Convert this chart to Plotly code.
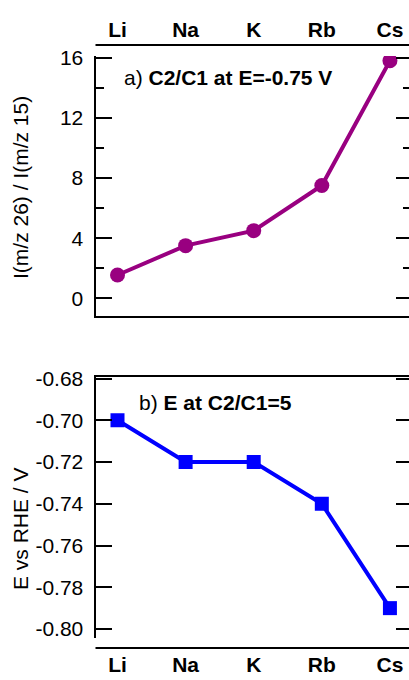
import plotly.graph_objects as go

# ---- data ----
cations = ["Li", "Na", "K", "Rb", "Cs"]
ratio_c2_c1 = [1.55, 3.5, 4.5, 7.5, 15.8]          # panel a
e_at_ratio5 = [-0.70, -0.72, -0.72, -0.74, -0.79]  # panel b
ratio_ticks = [0, 4, 8, 12, 16]
e_ticks = [-0.68, -0.70, -0.72, -0.74, -0.76, -0.78, -0.80]
e_ticktext = [f"{v:.2f}" for v in e_ticks]  # ASCII hyphen-minus

W, H = 409, 680
FONT = "Liberation Sans, Arial, sans-serif"
PURPLE = "#990080"
BLUE = "#0000FF"

def px(x):
    return x / W

def py(y):
    return 1 - y / H

idx = list(range(len(cations)))
xdom = [px(95.5), 1.0]
xrange_ = [-0.323, 4.28]
yr_a = [-1.177, 16.113]
yr_b = [-0.80431, -0.67928]

fig = go.Figure()
fig.add_trace(go.Scatter(x=idx, y=ratio_c2_c1, mode="lines+markers",
                         line=dict(color=PURPLE, width=4),
                         marker=dict(symbol="circle", size=15, color=PURPLE),
                         xaxis="x", yaxis="y", showlegend=False))
fig.add_trace(go.Scatter(x=idx, y=e_at_ratio5, mode="lines+markers",
                         line=dict(color=BLUE, width=4),
                         marker=dict(symbol="square", size=14, color=BLUE),
                         xaxis="x2", yaxis="y2", showlegend=False))
# empty helper traces so that the frame axes get drawn
for xa, ya in [("x3", "y"), ("x", "y3"), ("x4", "y2"), ("x2", "y4")]:
    fig.add_trace(go.Scatter(x=[None], y=[None], mode="markers", xaxis=xa,
                             yaxis=ya, showlegend=False, hoverinfo="skip"))

tickfont = dict(family=FONT, size=21, color="black")
catfont = dict(family=FONT, size=21, color="black", weight="bold")

common_x = dict(domain=xdom, range=xrange_, tickvals=idx, ticktext=cations,
                showgrid=False, zeroline=False, linecolor="black", linewidth=2,
                ticks="", tickfont=catfont, automargin=False)

fig.update_layout(
    width=W, height=H, autosize=False,
    margin=dict(l=0, r=0, t=0, b=0, autoexpand=False),
    paper_bgcolor="white", plot_bgcolor="white",
    font=dict(family=FONT, color="black"),
    # panel a
    xaxis=dict(**common_x, side="top", anchor="free", position=py(45),
               showline=False, ticklabelstandoff=4),
    yaxis=dict(domain=[py(316), py(56)], range=yr_a,
               tickvals=ratio_ticks, showgrid=False, zeroline=False,
               showline=True, linecolor="black", linewidth=2,
               ticks="inside", ticklen=16, tickwidth=2, tickcolor="black",
               minor=dict(ticks="inside", ticklen=8, tickwidth=2, dtick=2,
                          tick0=0, tickcolor="black", showgrid=False),
               tickfont=tickfont, anchor="x", ticklabelstandoff=6,
               automargin=False),
    xaxis3=dict(domain=xdom, range=xrange_, overlaying="x", anchor="y",
                side="bottom", showline=True, linecolor="black", linewidth=2,
                showticklabels=False, ticks="", showgrid=False, zeroline=False,
                automargin=False),
    yaxis3=dict(domain=[py(316), py(56)], range=yr_a, overlaying="y",
                anchor="x", side="right",
                tickvals=ratio_ticks, showline=False, showticklabels=False,
                ticks="inside", ticklen=13, tickwidth=2, tickcolor="black",
                minor=dict(ticks="inside", ticklen=6, tickwidth=2, dtick=2,
                           tick0=0, tickcolor="black", showgrid=False),
                showgrid=False, zeroline=False, automargin=False),
    # panel b
    xaxis2=dict(**common_x, side="bottom", anchor="free", position=py(648),
                showline=False, ticklabelstandoff=2),
    yaxis2=dict(domain=[py(638), py(377)], range=yr_b,
                tickvals=e_ticks, ticktext=e_ticktext, showgrid=False,
                zeroline=False, showline=True, linecolor="black", linewidth=2,
                ticks="inside", ticklen=16, tickwidth=2, tickcolor="black",
                tickfont=tickfont, anchor="x2", ticklabelstandoff=6,
                automargin=False),
    xaxis4=dict(domain=xdom, range=xrange_, overlaying="x2", anchor="y2",
                side="top", showline=True, linecolor="black", linewidth=2,
                showticklabels=False, ticks="", showgrid=False, zeroline=False,
                automargin=False),
    yaxis4=dict(domain=[py(638), py(377)], range=yr_b, overlaying="y2",
                anchor="x2", side="right", tickvals=e_ticks, showline=False,
                showticklabels=False, ticks="inside", ticklen=13, tickwidth=2,
                tickcolor="black", showgrid=False, zeroline=False,
                automargin=False),
)

# detached frame lines (top of panel a, bottom of panel b)
for xr, ypix in [("x domain", 45), ("x2 domain", 648)]:
    fig.add_shape(type="line", xref=xr, yref="paper", x0=0, x1=1,
                  y0=py(ypix), y1=py(ypix), line=dict(color="black", width=2))

annots = [
    dict(text="I(m/z 26) / I(m/z 15)", x=px(20), y=py(188), textangle=-90,
         font=dict(family=FONT, size=21)),
    dict(text="E vs RHE / V", x=px(20), y=py(529), textangle=-90,
         font=dict(family=FONT, size=21)),
    dict(text="a) <b>C2/C1 at E=-0.75 V</b>", x=px(122), y=py(77),
         xanchor="left", font=dict(family=FONT, size=21)),
    dict(text="b) <b>E at C2/C1=5</b>", x=px(137), y=py(402),
         xanchor="left", font=dict(family=FONT, size=21)),
]
for a in annots:
    fig.add_annotation(xref="paper", yref="paper", showarrow=False,
                       yanchor="middle", **({"xanchor": "center"} | a))

fig.write_html("out.html")
